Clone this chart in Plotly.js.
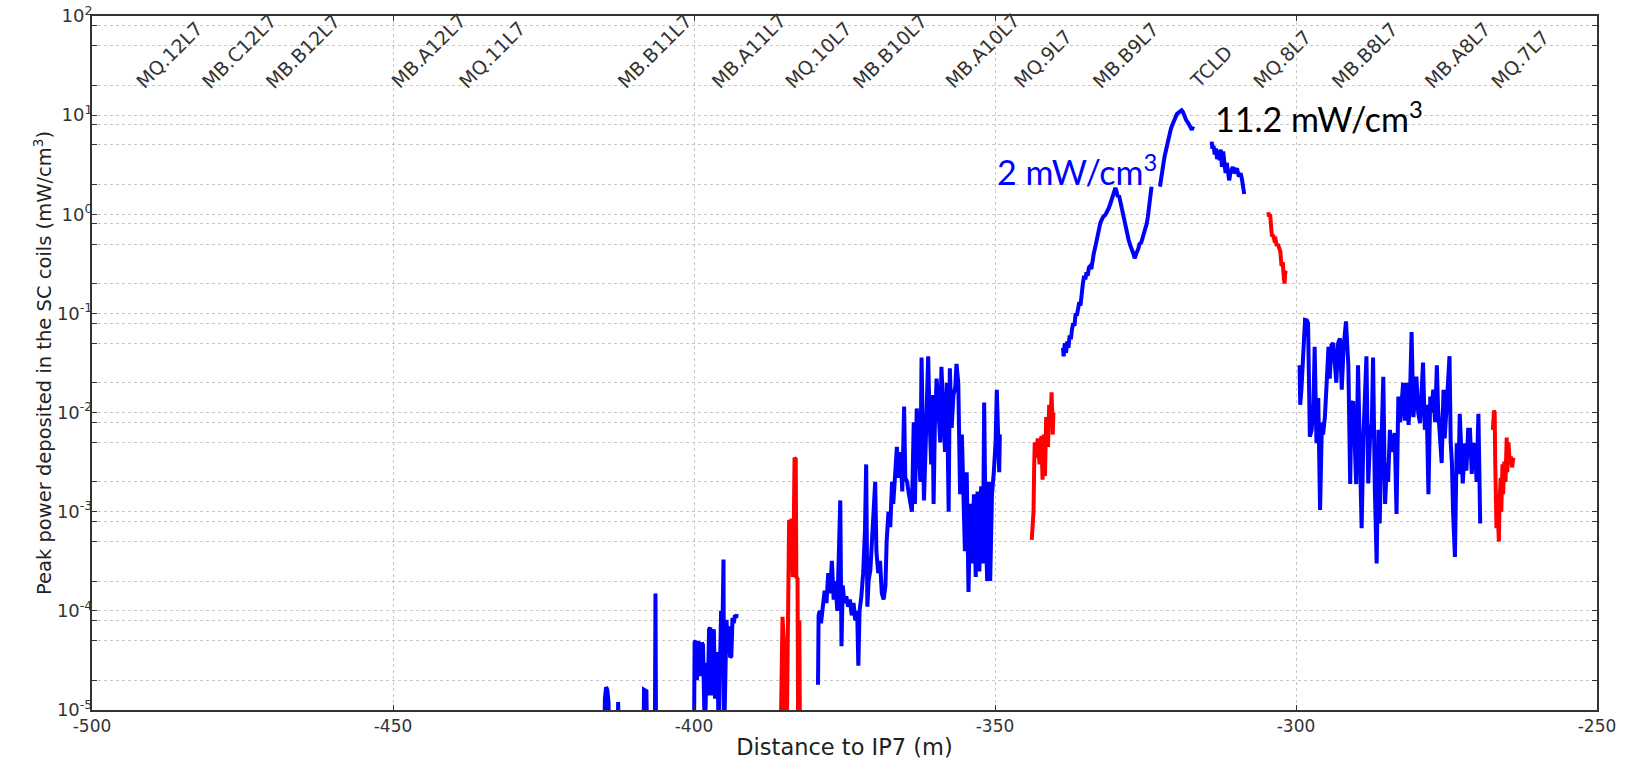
<!DOCTYPE html>
<html><head><meta charset="utf-8">
<script src="https://cdn.plot.ly/plotly-3.0.1.min.js"></script>
<style>html,body{margin:0;padding:0;background:#fff}</style>
</head><body>
<div id="chart" style="width:1629px;height:766px"></div>
<script>
// ---- data ----
const blueA_x = [-414.9,-414.8,-414.6,-414.4,-414.2,-414.1,-412.7,-412.6,-412.5,-408.4,-408.3,-407.9,-407.8,-406.5,-406.4,-406.3,-400.0,-399.9,-399.7,-399.5,-399.3,-399.1,-398.9,-398.7,-398.5,-398.4,-398.2,-397.9,-397.7,-397.5,-397.3,-397.1,-396.9,-396.7,-396.5,-396.3,-396.1,-395.9,-395.7,-395.5,-395.3,-395.1,-395.0,-394.8,-394.6,-394.4,-394.2,-394.0,-393.8,-393.6,-393.4,-393.2,-393.0,-392.9];
const blueA_y = [5e-6,1.3e-5,1.7e-5,1.6e-5,1.2e-5,5e-6,5e-6,1.2e-5,5e-6,5e-6,1.6e-5,1.55e-5,5e-6,5e-6,1.5e-4,5e-6,5e-6,4.8e-5,5.0e-5,2.0e-5,4.9e-5,4.6e-5,2.2e-5,4.8e-5,4.5e-5,5e-6,5e-6,3.0e-5,1.4e-5,6.5e-5,6.8e-5,1.4e-5,6.0e-5,6.5e-5,1.3e-5,3.8e-5,3.5e-5,5e-6,3.7e-5,1.0e-4,5e-5,3.3e-4,5e-6,4e-5,8.1e-5,3.7e-5,7e-5,3.4e-5,3.5e-5,8.5e-5,7.5e-5,9.1e-5,8.5e-5,9.3e-5];

const blueC_x = [-379.4,-379.3,-379.1,-378.9,-378.6,-378.3,-378.0,-377.7,-377.4,-377.1,-376.8,-376.5,-376.2,-375.9,-375.7,-375.5,-375.3,-375.0,-374.7,-374.4,-374.1,-373.8,-373.5,-373.2,-372.9,-372.7,-372.5,-372.2,-371.9,-371.6,-371.4,-371.2,-371.0,-370.7,-370.4,-370.1,-369.9,-369.7,-369.4,-369.1,-368.8,-368.5,-368.2,-368.0,-367.7,-367.4,-367.1,-366.9,-366.6,-366.3,-366.0,-365.7,-365.4,-365.1,-364.9,-364.6,-364.3,-363.8,-363.5,-363.3,-363.0,-362.7,-362.4,-362.2,-362.0,-361.8,-361.5,-361.3,-361.1,-360.9,-360.6,-360.4,-360.2,-360.0,-359.7,-359.4,-359.1,-358.9,-358.6,-358.3,-358.0,-357.7,-357.5,-357.2,-356.9,-356.6,-356.4,-356.1,-355.8,-355.5,-355.3,-355.0,-354.7,-354.4,-354.1,-353.8,-353.5,-353.2,-352.9,-352.6,-352.3,-352.0,-351.8,-351.6,-351.3,-351.0,-350.8,-350.5,-350.2,-349.9,-349.7,-349.5,-349.3,-349.2];
const blueC_y = [1.8e-5,9e-5,1.0e-4,7.5e-5,1.1e-4,1.6e-4,1.2e-4,2.4e-4,1.5e-4,3.2e-4,1.3e-4,2.0e-4,1.0e-4,4.2e-4,1.3e-3,4.4e-5,1.8e-4,1.2e-4,1.4e-4,1.1e-4,1.3e-4,9e-5,1.2e-4,8e-5,1.0e-4,2.8e-5,1.0e-4,1.4e-4,2.4e-4,6.5e-4,3.0e-3,1.1e-4,2.0e-4,2.6e-4,5e-4,1.2e-3,2.0e-3,4e-4,2.4e-4,3.2e-4,1.5e-4,1.3e-4,1.8e-4,5e-4,1.0e-3,7e-4,2.0e-3,1.2e-3,3.0e-3,4.5e-3,2.2e-3,4.0e-3,1.6e-3,1.15e-2,2.2e-3,2.0e-3,1.5e-3,1.0e-3,8e-3,1.2e-3,1.1e-2,5e-3,2.0e-3,3.6e-2,8e-3,1.3e-3,5e-3,2.5e-2,3.7e-2,1.0e-2,3.0e-3,1.5e-2,1.2e-3,7e-3,2.2e-2,1.1e-2,5e-3,2.9e-2,1.3e-2,4e-3,2e-2,1.0e-3,2.8e-2,7e-3,1.5e-2,1.8e-2,3.1e-2,2.0e-2,1.5e-3,6e-3,2.0e-3,4e-4,2.5e-3,1.55e-4,1.2e-3,3e-4,1.5e-3,2.2e-4,1.6e-3,2.5e-4,1.8e-3,3e-4,1.26e-2,1.0e-3,2e-4,2e-3,2e-4,1.5e-3,2.5e-3,5e-3,1.7e-2,7e-3,2.5e-3,6e-3];

const blueE1_x = [-338.7,-338.6,-338.4,-338.2,-338.0,-337.8,-337.6,-337.4,-337.2,-337.0,-336.8,-336.6,-336.4,-336.2,-336.0,-335.8,-335.6,-335.4,-335.2,-335.0,-334.8,-334.6,-334.4,-334.2,-334.0,-333.8,-333.6,-333.3,-333.0,-332.8,-332.5,-332.2,-332.0,-331.7,-331.4,-331.1,-330.8,-330.5,-330.2,-330.0,-329.8,-329.6,-329.4,-329.2,-329.0,-328.7,-328.4,-328.1,-327.8,-327.5,-327.2,-327.0,-326.8,-326.6,-326.4,-326.2,-326.0,-325.7,-325.4,-325.1,-324.8,-324.6,-324.4,-324.2,-324.0];
const blueE1_y = [0.045,0.037,0.05,0.04,0.052,0.045,0.06,0.055,0.07,0.08,0.075,0.1,0.095,0.12,0.13,0.12,0.17,0.2,0.24,0.22,0.26,0.24,0.29,0.3,0.28,0.36,0.4,0.48,0.6,0.7,0.82,0.9,0.95,0.98,1.05,1.15,1.3,1.5,1.8,1.85,1.7,1.5,1.55,1.35,1.25,1.0,0.8,0.65,0.55,0.48,0.44,0.4,0.36,0.38,0.42,0.45,0.5,0.52,0.6,0.68,0.8,0.95,1.3,1.6,1.9];

const blueE2_x = [-322.6,-322.4,-322.2,-322.0,-321.8,-321.6,-321.4,-321.2,-321.0,-320.8,-320.6,-320.4,-320.2,-320.0,-319.8,-319.5,-319.2,-319.0,-318.8,-318.5,-318.2,-317.9,-317.6,-317.3,-317.1];
const blueE2_y = [1.9,2.4,2.9,3.3,3.9,4.5,5.0,5.6,6.5,7.2,7.8,8.4,9.0,9.6,10.2,10.6,11.0,11.2,10.8,9.6,8.8,8.3,7.6,7.1,7.7];

const blueF_x = [-314.0,-313.9,-313.7,-313.5,-313.3,-313.1,-312.9,-312.7,-312.5,-312.3,-312.1,-311.9,-311.7,-311.5,-311.3,-311.1,-310.9,-310.7,-310.5,-310.3,-310.1,-309.8,-309.5,-309.2,-309.0,-308.8,-308.6];
const blueF_y = [5.4,4.6,4.9,4.0,4.6,3.6,4.4,3.5,4.5,3.0,4.3,3.2,2.6,3.3,2.4,2.2,2.6,2.8,3.0,2.6,2.7,2.9,2.4,2.6,2.3,2.0,1.6];

const blueH_x = [-299.4,-299.3,-299.1,-298.8,-298.5,-298.2,-298.0,-297.8,-297.7,-297.4,-297.1,-296.9,-296.6,-296.3,-296.0,-295.7,-295.5,-295.2,-294.9,-294.6,-294.4,-294.1,-293.8,-293.5,-293.3,-293.0,-292.7,-292.4,-292.1,-291.7,-291.3,-291.0,-290.8,-290.5,-290.0,-289.7,-289.4,-289.1,-288.8,-288.3,-288.0,-287.7,-287.4,-287.2,-286.9,-286.6,-286.3,-286.1,-285.8,-285.5,-285.2,-284.9,-284.7,-284.4,-284.1,-283.6,-283.3,-283.0,-282.7,-282.5,-282.2,-281.9,-281.6,-281.3,-281.1,-280.8,-280.5,-280.2,-280.0,-279.7,-279.4,-279.1,-278.9,-278.6,-278.3,-278.0,-277.7,-277.5,-277.2,-276.9,-276.6,-276.4,-276.1,-275.8,-275.5,-275.3,-275.0,-274.5,-274.3,-274.1,-273.9,-273.6,-273.3,-273.0,-272.8,-272.5,-272.3,-271.9,-271.7,-271.4,-271.1,-270.8,-270.6,-270.3,-270.0,-269.7,-269.4];
const blueH_y = [0.03,0.012,0.017,0.05,0.086,0.085,0.08,0.0145,0.0057,0.0067,0.012,0.046,0.0049,0.014,0.00104,0.008,0.006,0.009,0.021,0.046,0.022,0.048,0.05,0.03,0.02,0.05,0.056,0.017,0.045,0.083,0.03,0.0019,0.012,0.013,0.0019,0.03,0.0049,0.00068,0.0057,0.037,0.00193,0.0055,0.008,0.036,0.00166,0.0003,0.0067,0.00076,0.005,0.023,0.0012,0.0031,0.002,0.0067,0.004,0.0062,0.00095,0.0145,0.008,0.011,0.02,0.0083,0.02,0.0075,0.012,0.065,0.009,0.015,0.023,0.01,0.0078,0.018,0.032,0.0067,0.012,0.0015,0.0145,0.01,0.017,0.008,0.03,0.011,0.005,0.0031,0.017,0.0055,0.011,0.037,0.005,0.0031,0.00095,0.00035,0.0049,0.0024,0.0097,0.004,0.00193,0.0049,0.0026,0.0067,0.0067,0.0024,0.0045,0.0049,0.002,0.0097,0.00076];

const redB_x = [-385.6,-385.5,-385.3,-385.0,-384.9,-384.6,-384.4,-384.2,-384.0,-383.8,-383.6,-383.5,-383.3,-383.1,-383.0,-382.8,-382.7,-382.6,-382.5,-382.4];
const redB_y = [5e-6,3.2e-5,8.7e-5,4e-5,5e-6,5e-6,2.4e-4,8.3e-4,6e-4,8.5e-4,2.2e-4,2.4e-4,3.5e-3,3.4e-3,2.2e-4,2.1e-4,5e-6,5e-6,8e-5,5e-6];

const redD_x = [-343.9,-343.8,-343.6,-343.5,-343.4,-343.2,-342.9,-342.6,-342.3,-342.1,-341.9,-341.7,-341.5,-341.2,-341.0,-340.8,-340.6,-340.4,-340.3];
const redD_y = [5.2e-4,7e-4,1.0e-3,2.7e-3,5e-3,3.5e-3,5.5e-3,3e-3,5.8e-3,2.1e-3,6e-3,2.3e-3,9e-3,4.5e-3,1.2e-2,7e-3,1.6e-2,6e-3,1.0e-2];

const redG_x = [-304.6,-304.5,-304.3,-304.1,-304.0,-303.8,-303.6,-303.4,-303.2,-303.0,-302.8,-302.6,-302.4,-302.2,-302.0,-301.9,-301.8,-301.6];
const redG_y = [1.05,0.95,1.0,0.75,0.6,0.62,0.55,0.56,0.48,0.5,0.44,0.42,0.3,0.33,0.22,0.2,0.26,0.27];

const redI_x = [-267.3,-267.1,-267.0,-266.9,-266.8,-266.7,-266.6,-266.5,-266.3,-266.2,-266.0,-265.9,-265.7,-265.6,-265.4,-265.2,-265.0,-264.9,-264.7,-264.5,-264.3,-264.1,-263.9];
const redI_y = [6.7e-3,1.05e-2,1.0e-2,3e-3,1.4e-3,6.8e-4,1.5e-3,8e-4,5e-4,1.2e-3,2.2e-3,1.0e-3,3.0e-3,1.5e-3,3.2e-3,2.0e-3,5.6e-3,2.5e-3,5.0e-3,3e-3,3.6e-3,2.8e-3,3.5e-3];

const magnetNames = ['MQ.12L7','MB.C12L7','MB.B12L7','MB.A12L7','MQ.11L7','MB.B11L7','MB.A11L7','MQ.10L7','MB.B10L7','MB.A10L7','MQ.9L7','MB.B9L7','TCLD','MQ.8L7','MB.B8L7','MB.A8L7','MQ.7L7'];
const magnetPos = [-493.9,-483.0,-472.3,-451.5,-440.3,-413.9,-398.3,-386.1,-374.8,-359.5,-348.1,-334.9,-318.9,-308.3,-295.2,-279.8,-268.7];

const xTickVals = [-500,-450,-400,-350,-300,-250];
const xTickText = ['-500','-450','-400','-350','-300','-250'];
const yDecades = [-5,-4,-3,-2,-1,0,1,2];
const yMinorMult = [2,5,8];

// ---- build ----
function joinSegs(segs){
  const X=[],Y=[];
  segs.forEach((s,i)=>{ if(i>0){X.push(null);Y.push(null);} X.push(...s[0]); Y.push(...s[1]); });
  return [X,Y];
}
const [bx,by] = joinSegs([[blueA_x,blueA_y],[blueC_x,blueC_y],[blueE1_x,blueE1_y],[blueE2_x,blueE2_y],[blueF_x,blueF_y],[blueH_x,blueH_y]]);
const [rx,ry] = joinSegs([[redB_x,redB_y],[redD_x,redD_y],[redG_x,redG_y],[redI_x,redI_y]]);

const yTickVals = yDecades.map(d=>Math.pow(10,d));
const yTickText = yDecades.map(d=>'10<sup>'+d+'</sup>');
const yMinorVals = [];
yDecades.forEach(d=>{ if(d<2) yMinorMult.forEach(m=>yMinorVals.push(m*Math.pow(10,d))); });

const traces = [
  {x:bx,y:by,type:'scatter',mode:'lines',line:{color:'#0000ff',width:4},connectgaps:false,hoverinfo:'skip'},
  {x:rx,y:ry,type:'scatter',mode:'lines',line:{color:'#ff0000',width:4},connectgaps:false,hoverinfo:'skip'}
];

const annotations = magnetNames.map((n,i)=>({
  text:n, x:magnetPos[i], xref:'x', y:0.886, yref:'paper',
  xanchor:'left', yanchor:'bottom', textangle:-45, showarrow:false,
  font:{family:'DejaVu Sans',size:19,color:'#333'}
}));
annotations.push({text:'2 mW/cm<sup>3</sup>', x:0.600, xref:'paper', y:0.778, yref:'paper',
  xanchor:'left', yanchor:'middle', showarrow:false, font:{family:'Lato',size:34,color:'#0000ff'}});
annotations.push({text:'11.2 mW/cm<sup>3</sup>', x:0.745, xref:'paper', y:0.854, yref:'paper',
  xanchor:'left', yanchor:'middle', showarrow:false, font:{family:'Lato',size:34,color:'#000'}});

const gridStyle = {showgrid:true, gridcolor:'#c8c8c8', griddash:'dot', gridwidth:1};
const axisCommon = Object.assign({
  showline:true, linecolor:'#333', linewidth:2, mirror:'ticks',
  ticks:'inside', ticklen:5, tickwidth:1, tickcolor:'#333',
  zeroline:false, tickfont:{family:'DejaVu Sans',size:17,color:'#333'}
}, gridStyle);

const layout = {
  width:1629, height:766,
  margin:{l:92,r:32,t:16,b:56},
  paper_bgcolor:'#fff', plot_bgcolor:'#fff',
  showlegend:false,
  xaxis:Object.assign({}, axisCommon, {
    range:[-500,-250], tickmode:'array', tickvals:xTickVals, ticktext:xTickText,
    title:{text:'Distance to IP7 (m)', font:{family:'DejaVu Sans',size:22.5,color:'#222'}, standoff:4}
  }),
  yaxis:Object.assign({}, axisCommon, {
    type:'log', range:[-5,2], tickmode:'array', tickvals:yTickVals, ticktext:yTickText,
    ticklabelstandoff:-6, tickfont:{family:'DejaVu Sans',size:18,color:'#333'},
    minor:Object.assign({tickmode:'array', tickvals:yMinorVals, ticks:'inside', ticklen:5, tickcolor:'#333'}, gridStyle),
    title:{text:'Peak power deposited in the SC coils (mW/cm<sup>3</sup>)', font:{family:'DejaVu Sans',size:19.5,color:'#222'}, standoff:0}
  }),
  annotations:annotations
};

Plotly.newPlot('chart', traces, layout, {displayModeBar:false, staticPlot:true});
</script>
</body></html>
